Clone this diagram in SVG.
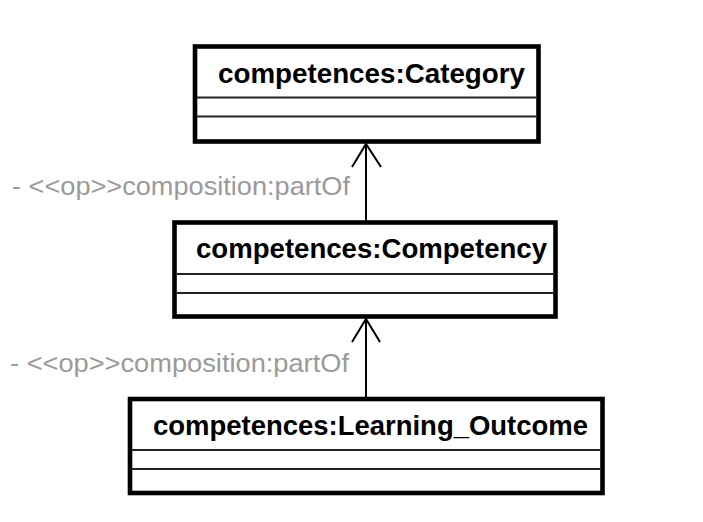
<svg xmlns="http://www.w3.org/2000/svg" width="703" height="522" viewBox="0 0 703 522">
<style>
.box{fill:#fff;stroke:#000;stroke-width:4.6}
.div{stroke:#222;stroke-width:2}
.title{font-family:"Liberation Sans",Arial,sans-serif;font-weight:bold;font-size:27px;fill:#000}
.lbl{font-family:"Liberation Sans",Arial,sans-serif;font-size:26px;fill:#9a9a9a}
.conn{stroke:#000;stroke-width:2;fill:none}
</style>
<rect x="0" y="0" width="703" height="522" fill="#fff"/>
<g id="connectors">
<line class="conn" x1="366" y1="144" x2="366" y2="221"/>
<polyline class="conn" points="352,167 366,144 381,167"/>
<line class="conn" x1="366" y1="319" x2="366" y2="397"/>
<polyline class="conn" points="352,342 366,319 380,342"/>
<text class="lbl" x="12" y="195" textLength="338" lengthAdjust="spacingAndGlyphs">- &lt;&lt;op&gt;&gt;composition:partOf</text>
<text class="lbl" x="10" y="372" textLength="339" lengthAdjust="spacingAndGlyphs">- &lt;&lt;op&gt;&gt;composition:partOf</text>
</g>
<g id="category">
<rect class="box" x="195" y="46.5" width="343.5" height="95"/>
<line class="div" x1="197" y1="97.5" x2="536" y2="97.5"/>
<line class="div" x1="197" y1="116.5" x2="536" y2="116.5"/>
<text class="title" x="218" y="83" textLength="307" lengthAdjust="spacingAndGlyphs">competences:Category</text>
</g>
<g id="competency">
<rect class="box" x="174.5" y="222.5" width="381" height="94"/>
<line class="div" x1="177" y1="274" x2="553" y2="274"/>
<line class="div" x1="177" y1="293" x2="553" y2="293"/>
<text class="title" x="196" y="258" textLength="351" lengthAdjust="spacingAndGlyphs">competences:Competency</text>
</g>
<g id="learning_outcome">
<rect class="box" x="130" y="399" width="472.5" height="94"/>
<line class="div" x1="132" y1="450" x2="600" y2="450"/>
<line class="div" x1="132" y1="469" x2="600" y2="469"/>
<text class="title" x="153" y="435" textLength="435" lengthAdjust="spacingAndGlyphs">competences:Learning_Outcome</text>
</g>
</svg>
